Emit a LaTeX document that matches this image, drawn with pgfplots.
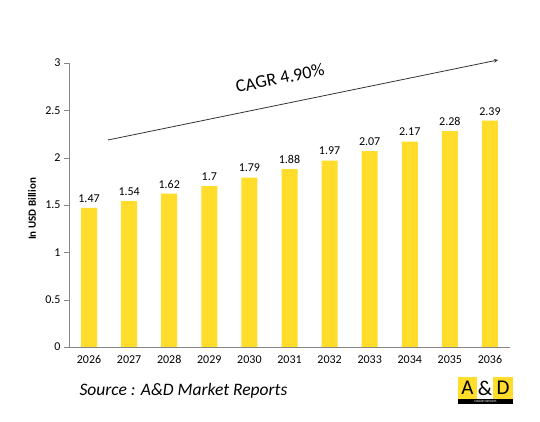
\documentclass[border=0pt]{standalone}
\usepackage{pgfplots}
\pgfplotsset{compat=1.18}
\usepackage{fontspec}
\setmainfont{Carlito}
\definecolor{baryellow}{HTML}{FFDD2A}
\definecolor{axgray}{HTML}{868686}
\begin{document}
\begin{tikzpicture}[x=1pt,y=1pt]
\path[fill=white] (0,0) rectangle (540,422);
\begin{axis}[
  at={(69pt,75pt)}, anchor=south west,
  scale only axis, width=441pt, height=284pt,
  xmin=-0.5, xmax=10.5, ymin=0, ymax=3,
  axis x line*=bottom, axis y line*=left,
  axis line style={axgray},
  ytick={0,0.5,1,1.5,2,2.5,3},
  yticklabels={0,0.5,1,1.5,2,2.5,3},
  xtick={0,...,10},
  xticklabels={2026,2027,2028,2029,2030,2031,2032,2033,2034,2035,2036},
  extra x ticks={-0.5,0.5,1.5,2.5,3.5,4.5,5.5,6.5,7.5,8.5,9.5,10.5},
  extra x tick labels={},
  extra x tick style={major tick length=5pt, tick style={axgray}, tick align=outside},
  x tick style={draw=none},
  y tick style={axgray},
  tick align=outside, major tick length=5pt,
  tick label style={font=\fontsize{12}{14}\selectfont, text=black},
  /pgf/number format/assume math mode=true,
  nodes near coords,
  every node near coord/.style={font=\fontsize{12}{14}\selectfont, black, yshift=2pt},
  point meta=explicit symbolic,
  clip=false,
]
\addplot[ybar, bar width=16pt, fill=baryellow, draw=none] table[meta=label] {
x y label
0 1.47 1.47
1 1.54 1.54
2 1.62 1.62
3 1.70 1.7
4 1.79 1.79
5 1.88 1.88
6 1.97 1.97
7 2.07 2.07
8 2.17 2.17
9 2.28 2.28
10 2.39 2.39
};
\end{axis}
\node[rotate=90, font=\fontsize{11}{13}\selectfont\bfseries] at (32,213) {In USD Billion};
\draw[->, >=stealth, black!80, line width=0.8pt] (108,282) -- (498,362);
\node[rotate=11.6, font=\fontsize{18}{21}\selectfont] at (280,344) {CAGR 4.90\%};
\node[anchor=west, font=\fontsize{17.5}{21}\selectfont\itshape] at (76,31) {Source : A\&D Market Reports};
% logo
\fill[baryellow] (458,23) rectangle (477,45);
\fill[white] (477,23) rectangle (493,45);
\fill[baryellow] (493,23) rectangle (513,45);
\fill[black] (458,18) rectangle (513,23);
\node[font=\fontsize{21}{22}\selectfont] at (467.5,34) {A};
\node[font=\fontsize{21}{22}\selectfont] at (485,34) {\&};
\node[font=\fontsize{21}{22}\selectfont] at (503,34) {D};
\node[font=\fontsize{3}{3}\selectfont, white] at (485.5,20.5) {MARKET REPORTS};
\end{tikzpicture}
\end{document}
